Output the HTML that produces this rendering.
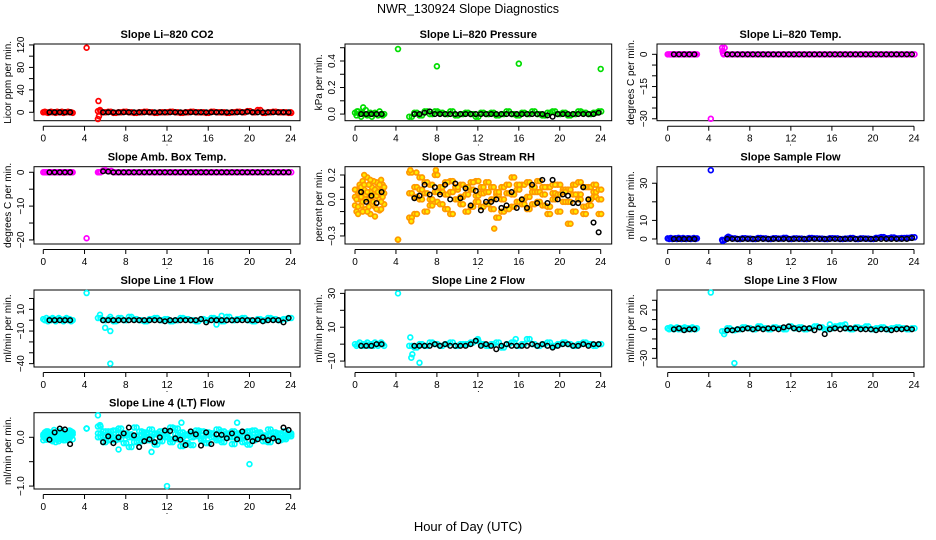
<!DOCTYPE html>
<html><head><meta charset="utf-8"><style>
html,body{margin:0;padding:0;background:#fff;}
svg{display:block;font-family:"Liberation Sans",Arial,sans-serif;}
</style></head><body>
<svg id="chart" width="936" height="540" viewBox="0 0 936 540">
<rect x="0" y="0" width="936" height="540" fill="#fff"/>
<text x="468" y="13" font-size="12.5" text-anchor="middle">NWR_130924  Slope Diagnostics</text>
<text x="468" y="531" font-size="13" text-anchor="middle">Hour of Day (UTC)</text>
<g id="panels"></g>
</svg>
<script>
// shared hours
const H = [0,0.15,0.3,0.45,0.6,0.75,0.9,1.05,1.2,1.35,1.5,1.65,1.8,1.95,2.1,2.25,2.4,2.55,2.7,2.85,
 4.2,
 5.3,5.8,6.3,6.8,7.3,7.8,8.3,8.8,9.3,9.8,10.3,10.8,11.3,11.8,12.3,12.8,13.3,13.8,14.3,14.8,
 15.3,15.8,16.3,16.8,17.3,17.8,18.3,18.8,19.3,19.8,20.3,20.8,21.3,21.8,22.3,22.8,23.3,23.8];
const BH = [0.6,1.1,1.6,2.1,2.6,
 5.8,6.3,6.8,7.3,7.8,8.3,8.8,9.3,9.8,10.3,10.8,11.3,11.8,12.3,12.8,13.3,13.8,14.3,14.8,
 15.3,15.8,16.3,16.8,17.3,17.8,18.3,18.8,19.3,19.8,20.3,20.8,21.3,21.8,22.3,22.8,23.3,23.8];
const xTicks = [0,4,8,12,16,20,24];

// panel 1 CO2
const co2C = [0,1,0,-1,0,1,0,0,-1,1,0,0,1,-1,0,0,1,0,0,-1,115,
 2,0,1,-1,0,1,0,-1,0,1,0,-1,0,0,1,0,-1,0,1,0,0,-1,1,0,0,-1,0,1,0,2,0,4,-1,0,1,0,0,-1];
const co2XH = [5.3,5.35,5.4,5.5,24];
const co2XV = [-12,20,-7,4,0];
const co2B = [0,0,0,0,0,0,0,0,0,0,0,0,0,0,0,0,0,0,0,0,0,0,0,0,0,0,0,0,0,0,0,0,0,1,0,0,0,0,0,0,0,0];
// panel 2 pressure
const presC = [0.01,-0.01,0.02,0,-0.02,0.01,0,0.03,-0.01,0,0.01,-0.02,0,0.01,0,-0.01,0.02,0,-0.01,0,0.49,
 -0.02,0.01,-0.01,0.02,0,0.02,0.01,0,0.02,-0.01,0,0.01,0,-0.02,0.01,0,0.01,-0.01,0,0.02,0,-0.01,0.01,0,0.02,0,-0.01,0.01,0.02,0,0.01,-0.01,0,0.02,0.01,0,0.01,0.02];
const presXH = [0.8,8.0,16.0,24.0,0.2];
const presXV = [0.05,0.36,0.38,0.34,0.02];
const presB = [0,0,0,0,0,0,0,0.01,0.02,0,0,0,0,0,0,0,0,0,0,0,0,0,0,0,0,0,0,0,0,0,0,-0.01,-0.02,0,0,0,0,0,0,0,0,0.01];
// panel 3 Li-820 temp
const tempC = [0,0,0,0,0,0,0,0,0,0,0,0,0,0,0,0,0,0,0,0,-30,
 3,0,0,0,0,0,0,0,0,0,0,0,0,0,0,0,0,0,0,0,0,0,0,0,0,0,0,0,0,0,0,0,0,0,0,0,0,0];
const tempXH = [5.35,5.4,5.45];
const tempXV = [1.5,0.5,0];
const tempB = [0,0,0,0,0,0,0,0,0,0,0,0,0,0,0,0,0,0,0,0,0,0,0,0,0,0,0,0,0,0,0,0,0,0,0,0,0,0,0,0,0,0];
// panel 4 amb box temp
const ambC = [0,0,0,0,0,0,0,0,0,0,0,0,0,0,0,0,0,0,0,0,-19.5,
 0,0.5,0.3,0,0,0,0,0,0,0,0,0,0,0,0,0,0,0,0,0,0,0,0,0,0,0,0,0,0,0,0,0,0,0,0,0,0,0];
const ambXH = [5.4,6.0,6.6];
const ambXV = [0,0.6,0.4];
const ambB = [0,0,0,0,0,0.3,0.2,0,0,0,0,0,0,0,0,0,0,0,0,0,0,0,0,0,0,0,0,0,0,0,0,0,0,0,0,0,0,0,0,0,0,0];
// panel 5 RH
const rhCa = [0.02,-0.1,0.05,0.12,-0.05,0.15,0.08,-0.08,0.18,0.0,-0.12,0.1,0.05,-0.06,0.14,0.02,-0.09,0.16,0.07,-0.04,-0.33,
 0.22,-0.12,0.18,0.05,-0.05,0.2,0.1,-0.08,0.15,0.0,0.12,-0.1,0.08,0.03,-0.06,0.14,0.0,-0.15,0.1,0.05,0.18,-0.02,0.12,-0.08,0.06,0.15,-0.05,0.1,0.0,-0.1,0.08,-0.2,0.12,0.04,-0.06,0.1,0.02,-0.12];
const rhCb = [-0.05,0.08,-0.12,0.0,0.1,-0.02,0.2,0.04,-0.1,0.12,0.06,-0.04,0.15,-0.14,0.03,0.1,0.0,-0.08,0.12,0.05,-0.33,
 -0.15,0.1,0.0,-0.1,0.12,-0.02,0.06,0.14,-0.12,0.08,0.02,0.1,-0.06,0.15,0.05,-0.04,0.1,0.04,-0.1,0.12,-0.06,0.08,0.0,0.14,-0.04,0.06,0.1,-0.12,0.05,0.12,-0.02,0.08,-0.1,0.0,0.1,-0.05,0.12,0.0];
const rhCc = [0.08,0.0,-0.06,0.06,0.02,-0.1,0.12,0.0,0.06,-0.06,0.16,0.02,-0.02,0.08,-0.08,0.06,0.12,-0.02,0.02,0.1,-0.33,
 0.05,0.02,0.08,0.14,0.0,0.06,-0.04,0.04,0.06,0.1,-0.04,0.04,0.14,-0.02,0.1,0.06,-0.08,0.06,0.0,-0.08,0.04,0.12,-0.04,0.02,0.1,-0.02,0.04,-0.06,0.12,0.04,0.06,-0.02,0.04,0.14,-0.12,0.0,0.06,0.08];
const rhXH = [5.4,5.5,7.9,6.0,13.6];
const rhXV = [0.24,-0.18,0.24,0.22,-0.24];
const rhB = [0.06,-0.02,0.03,-0.03,0.06,
 0.01,0.03,0.12,0.04,0.1,0.04,0.12,0.0,0.13,0.01,0.09,-0.05,0.07,-0.09,-0.02,-0.02,0.0,-0.07,-0.05,0.06,-0.07,0.0,-0.07,0.12,-0.03,0.16,-0.03,0.16,0.0,0.04,0.03,-0.03,-0.03,0.1,0.0,-0.19,-0.27];
// panel 6 sample flow
const sfC = [0.3,0,0.5,0,0.2,0.4,0,0.6,0.3,0,0.5,0.2,0,0.4,0.3,0,0.2,0.5,0,0.3,37,
 -0.5,0.8,0.3,0,0.4,0.2,0,0.5,0.3,0,0.4,0.2,0.6,0,0.3,0.2,0,0.5,0.3,0.2,0,0.4,0.3,0,0.2,0.5,0,0.3,0.2,0,0.6,1.0,0.4,0.8,0.3,0.5,0.6,0.9];
const sfXH = [5.35,5.9];
const sfXV = [-1,1.2];
const sfB = [0,0,0,0,0,0,0,0,0,0,0,0,0,0,0,0,0,0,0,0,0,0,0,0,0,0,0,0,0,0,0,0,0,0,0,0,0,0,0,0,0,0.5];
// panel 7 line1
const l1C = [1,0,2,-1,1,0,2,1,-1,0,2,1,0,-1,1,2,0,1,-1,0,25,
 2,0,1,-1,2,0,3,1,0,-1,1,2,0,1,-1,0,2,1,0,-1,1,0,2,1,-1,3,0,1,2,0,-1,1,0,2,1,0,1,2];
const l1XH = [5.5,6.0,6.5,6.5,6.5,17.3,16.8];
const l1XV = [5,-7,3,-10,-40,4,-4];
const l1B = [0,0,0,0,0,0,0,0,0,0,0,0,0,0,0,0,0,-1,0,0,0,0,0,0,1,-2,0,0,0,0,0,0,0,0,0,0,-1,0,0,0,-2,2];
// panel 8 line2
const l2C = [0,-1,0,1,-1,0,-1,0,1,-1,0,0,-1,1,0,-1,0,1,0,-1,30,
 -1,-2,0,-1,1,0,-1,0,1,-1,0,0,1,2,0,-1,0,1,-2,0,1,-1,0,3,0,-1,0,1,-1,0,1,0,-1,0,1,0,-1,0];
const l2XH = [5.4,5.5,5.6,6.3,12.0,15.7];
const l2XV = [4,-8,-6,-11,3,3];
const l2B = [-1,-1,-1,0,0,-1,-1,-1,-1,0,-1,0,-1,-1,-1,-1,0,2,-1,0,-1,-3,-1,0,-1,-1,-1,-1,0,-1,0,-1,-2,-1,0,0,-1,-1,0,-1,0,0];
// panel 9 line3
const l3C = [1,0,2,1,0,1,2,0,1,0,1,2,0,1,1,0,2,1,0,1,38,
 -2,1,-1,0,2,1,0,3,1,0,2,1,0,3,1,2,0,1,3,2,0,1,3,4,1,0,2,1,3,0,1,2,0,1,2,1,0,1];
const l3XH = [5.5,6.5,15.8,17.3];
const l3XV = [-5,-35,5,5];
const l3B = [0,1,-1,0,0,-1,-1,0,0,1,0,1,0,1,1,0,2,3,1,0,1,1,-1,2,-5,0,1,0,1,1,1,0,0,0,-1,0,0,-1,0,0,1,0];
// panel 10 line4
const l4Ca = [0.02,0.1,-0.05,0.12,0.0,0.08,-0.08,0.15,0.04,-0.02,0.1,0.06,-0.04,0.12,0.0,0.08,-0.06,0.14,0.02,-0.04,0.18,
 0.22,-0.1,0.12,0.0,0.18,-0.12,0.06,0.2,-0.08,0.1,0.02,-0.15,0.12,0.06,-0.1,0.18,0.0,-0.12,0.08,0.14,-0.06,0.1,0.0,0.16,-0.1,0.06,0.12,-0.04,0.1,-0.15,0.14,0.0,-0.08,0.16,0.04,-0.06,0.12,0.02];
const l4Cb = [-0.06,0.04,0.12,-0.02,0.1,-0.06,0.06,0.0,-0.1,0.12,-0.04,0.02,0.14,-0.06,0.06,-0.02,0.1,0.0,0.12,0.06,0.18,
 0.0,0.12,-0.06,0.14,-0.04,0.08,-0.2,0.02,0.12,-0.06,0.16,0.06,-0.08,0.0,0.2,-0.04,0.1,0.06,-0.16,0.02,0.12,-0.12,0.08,-0.02,0.12,0.0,-0.14,0.08,0.02,0.12,-0.06,0.1,0.04,-0.1,0.1,0.08,-0.04,0.06];
const l4Cc = [0.06,-0.02,0.02,0.08,-0.04,0.04,0.1,-0.04,0.06,0.02,-0.08,0.1,0.0,0.04,-0.06,0.1,0.02,-0.02,0.06,0.1,0.18,
 0.08,0.02,0.06,-0.06,0.08,0.04,0.0,-0.1,0.04,0.06,-0.06,0.08,0.02,0.1,-0.04,0.06,-0.18,0.04,0.0,0.08,-0.02,0.04,0.08,-0.06,0.04,0.08,0.0,0.06,-0.1,0.04,0.0,0.08,0.02,0.04,-0.02,0.06,0.0,0.08];
const l4XH = [5.3,5.5,12.0,13.4,18.8,20.0,7.3,10.5];
const l4XV = [0.45,0.25,-1.0,0.3,0.3,-0.55,-0.25,-0.3];
const l4B = [-0.05,0.1,0.18,0.16,-0.14,
 -0.1,0.02,-0.12,0.0,0.08,0.2,0.04,-0.2,-0.08,-0.04,-0.1,0.0,0.14,0.13,-0.02,-0.05,-0.16,0.12,0.06,-0.17,0.1,-0.14,0.06,0.05,-0.02,0.08,-0.04,0.12,0.0,-0.08,-0.04,0.0,-0.06,-0.02,-0.08,0.2,0.15];

const cols = [{x0:34,x1:300,h0:43.3,h24:290.7},{x0:345,x1:611.7,h0:355,h24:600.7},{x0:657,x1:924,h0:667.7,h24:914}];
const rows = [{t:44,b:120.7},{t:166.7,b:244},{t:290,b:367},{t:412.7,b:489}];

const panels = [
 {name:'co2',title:'Slope Li\u2013820 CO2',yl:'Licor ppm per min.',c:0,r:0,dom:[-15,121.7],ticks:[0,20,40,60,80,100,120],labs:{0:'0',40:'40',80:'80',120:'120'},color:'#ff0000',series:[co2C],xh:co2XH,xv:co2XV,blk:co2B},
 {name:'pressure',title:'Slope Li\u2013820 Pressure',yl:'kPa per min.',c:1,r:0,dom:[-0.05,0.528],ticks:[0,0.1,0.2,0.3,0.4,0.5],labs:{0:'0.0',0.2:'0.2',0.4:'0.4'},color:'#00dd00',series:[presC],xh:presXH,xv:presXV,blk:presB},
 {name:'li820-temp',title:'Slope Li\u2013820 Temp.',yl:'degrees C per min.',c:2,r:0,dom:[-30.9,4.8],ticks:[0,-5,-10,-15,-20,-25,-30],labs:{0:'0','-15':'\u221215','-30':'\u221230'},color:'#ff00ff',series:[tempC],xh:tempXH,xv:tempXV,blk:tempB},
 {name:'amb-box-temp',title:'Slope Amb. Box Temp.',yl:'degrees C per min.',c:0,r:1,dom:[-21.2,1.65],ticks:[0,-5,-10,-15,-20],labs:{0:'0','-10':'\u221210','-20':'\u221220'},color:'#ff00ff',series:[ambC],xh:ambXH,xv:ambXV,blk:ambB},
 {name:'gas-stream-rh',title:'Slope Gas Stream RH',yl:'percent per min.',c:1,r:1,dom:[-0.366,0.268],ticks:[0.2,0.1,0,-0.1,-0.2,-0.3],labs:{0.2:'0.2',0:'0.0','-0.3':'\u22120.3'},color:'#ff9900',fill:'#ffee00',series:[rhCa,rhCb,rhCc],xh:rhXH,xv:rhXV,blk:rhB},
 {name:'sample-flow',title:'Slope Sample Flow',yl:'ml/min per min.',c:2,r:1,dom:[-2.7,38.9],ticks:[0,10,20,30],labs:{0:'0',10:'10',30:'30'},color:'#0000ff',series:[sfC],xh:sfXH,xv:sfXV,blk:sfB},
 {name:'line1-flow',title:'Slope Line 1 Flow',yl:'ml/min per min.',c:0,r:2,dom:[-43.1,27.8],ticks:[20,10,0,-10,-20,-30,-40],labs:{10:'10','-10':'\u221210','-40':'\u221240'},color:'#00ffff',series:[l1C],xh:l1XH,xv:l1XV,blk:l1B},
 {name:'line2-flow',title:'Slope Line 2 Flow',yl:'ml/min per min.',c:1,r:2,dom:[-13.5,32],ticks:[30,20,10,0,-10],labs:{30:'30',10:'10','-10':'\u221210'},color:'#00ffff',series:[l2C],xh:l2XH,xv:l2XV,blk:l2B},
 {name:'line3-flow',title:'Slope Line 3 Flow',yl:'ml/min per min.',c:2,r:2,dom:[-39,40.6],ticks:[30,20,10,0,-10,-20,-30],labs:{20:'20',0:'0','-30':'\u221230'},color:'#00ffff',series:[l3C],xh:l3XH,xv:l3XV,blk:l3B},
 {name:'line4-flow',title:'Slope Line 4 (LT) Flow',yl:'ml/min per min.',c:0,r:3,dom:[-1.06,0.504],ticks:[0,-0.5,-1],labs:{0:'0.0','-1':'\u22121.0'},color:'#00ffff',series:[l4Ca,l4Cb,l4Cc],xh:l4XH,xv:l4XV,blk:l4B}
];

const NS='http://www.w3.org/2000/svg';
const root=document.getElementById('panels');
function mk(tag,attrs,parent){const e=document.createElementNS(NS,tag);for(const k in attrs)e.setAttribute(k,attrs[k]);parent.appendChild(e);return e;}
const dupOffsets=[0,0.25];

panels.forEach(p=>{
 const C=cols[p.c],R=rows[p.r];
 const xs=h=>C.h0+(C.h24-C.h0)*h/24;
 const ys=v=>R.b-(v-p.dom[0])/(p.dom[1]-p.dom[0])*(R.b-R.t);
 const g=mk('g',{},root);
 
 
 const t=mk('text',{x:(C.x0+C.x1)/2,y:R.t-6,'font-size':'11','font-weight':'bold','text-anchor':'middle'},g);
 t.textContent=p.title;
 
 
 const ax=mk('g',{stroke:'#000','stroke-width':1},g);
 
 
 mk('line',{x1:xs(0),x2:xs(24),y1:R.b+5.5,y2:R.b+5.5},ax);
 xTicks.forEach(v=>{
  mk('line',{x1:xs(v),x2:xs(v),y1:R.b+5.5,y2:R.b+10},ax);
  const lt=mk('text',{x:xs(v),y:R.b+21,'font-size':'10','text-anchor':'middle',stroke:'none'},g);
  lt.textContent=String(v);
  
  
 });
 const dot=mk('text',{x:(C.x0+C.x1)/2,y:R.b+25,'font-size':'9','text-anchor':'middle'},g);
 dot.textContent='.';
 
 
 const ay=mk('g',{stroke:'#000','stroke-width':1},g);
 
 
 const tv=p.ticks.map(ys);
 mk('line',{x1:C.x0-0.5,x2:C.x0-0.5,y1:Math.min(...tv),y2:Math.max(...tv)},ay);
 p.ticks.forEach(v=>{
  const y=ys(v);
  mk('line',{x1:C.x0-5,x2:C.x0,y1:y,y2:y},ay);
  const key=String(v);
  if(p.labs[key]!==undefined){
   const lx=C.x0-10;
   const yt=mk('text',{x:lx,y:y,'font-size':'10','text-anchor':'middle',transform:`rotate(-90 ${lx} ${y})`,stroke:'none'},g);
   yt.textContent=p.labs[key];
   
   
  }
 });
 const tx=C.x0-23,ty=(R.t+R.b)/2;
 const ylt=mk('text',{x:tx,y:ty,'font-size':'10','text-anchor':'middle',transform:`rotate(-90 ${tx} ${ty})`},g);
 ylt.textContent=p.yl;
 
 
 const box=mk('rect',{x:C.x0,y:R.t,width:C.x1-C.x0,height:R.b-R.t,fill:'none',stroke:'#000','stroke-width':1},g);
 
 
 const sg=mk('g',{fill:p.fill||'none',stroke:p.color,'stroke-width':1.7},g);
 
 
 p.series.forEach(arr=>{
  const n=Math.min(arr.length,H.length);
  for(let i=0;i<n;i++){
   const offs=(H[i]>5)?dupOffsets:[0];
   offs.forEach(o=>{
    const c=mk('circle',{cx:xs(H[i]+o),cy:ys(arr[i]),r:2.4},sg);
    
    
   });
  }
 });
 for(let i=0;i<p.xh.length;i++){
  const c=mk('circle',{cx:xs(p.xh[i]),cy:ys(p.xv[i]),r:2.4},sg);
  
  
 }
 const bg=mk('g',{fill:'none',stroke:'#000','stroke-width':1.5},g);
 
 
 const nb=Math.min(p.blk.length,BH.length);
 for(let i=0;i<nb;i++){
  const c=mk('circle',{cx:xs(BH[i]),cy:ys(p.blk[i]),r:2.3},bg);
  
  
 }
});
</script>
</body></html>
